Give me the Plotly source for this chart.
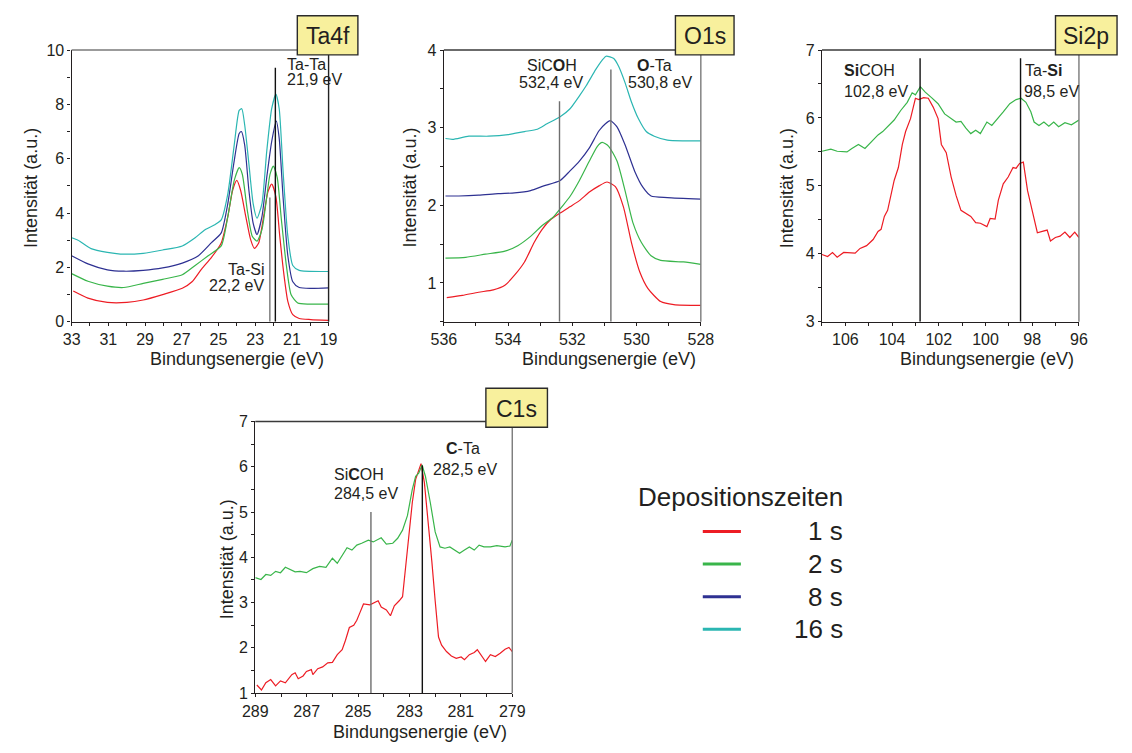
import plotly.graph_objects as go

W, H = 1132, 753
FONT = "Liberation Sans, Arial, sans-serif"
INK = "#231f20"

SERIES_NAMES = ["1 s", "2 s", "8 s", "16 s"]
SERIES_COLORS = ["#ed1c24", "#39b54a", "#2e3192", "#2bb6b2"]

# ---------------- Ta4f ----------------
TA4F_E_1S = [32.91, 32.11, 31.05, 29.99, 29.10, 28.04, 26.97, 26.44, 25.91, 25.38, 24.85, 24.49, 24.23, 24.00,
             23.79, 23.51, 23.25, 23.04, 22.81, 22.54, 22.31, 22.10, 21.87, 21.66, 21.45, 21.22, 20.95, 20.60,
             19.97, 19.00]
TA4F_I_1S = [1.13, 0.87, 0.71, 0.71, 0.80, 1.00, 1.23, 1.47, 1.95, 2.37, 2.90, 3.87, 4.83, 5.20,
             4.83, 3.87, 3.03, 2.70, 2.90, 3.87, 4.77, 5.07, 4.60, 3.15, 1.83, 0.75, 0.26, 0.12,
             0.08, 0.05]
TA4F_E_2S = [33.0, 32.11, 31.05, 30.16, 29.10, 28.04, 26.97, 26.27, 25.56, 24.85, 24.49, 24.14, 23.87, 23.70,
             23.43, 23.16, 22.90, 22.63, 22.37, 22.19, 22.01, 21.80, 21.57, 21.30, 21.04, 20.68, 20.06, 19.0]
TA4F_I_2S = [1.77, 1.49, 1.31, 1.26, 1.41, 1.56, 1.73, 2.07, 2.43, 2.79, 3.87, 5.20, 5.67, 5.43,
             4.11, 3.15, 2.97, 3.39, 4.59, 5.43, 5.73, 5.31, 3.75, 2.07, 0.99, 0.69, 0.65, 0.65]
TA4F_E_8S = [33.0, 32.11, 31.05, 30.16, 29.10, 28.04, 26.97, 26.09, 25.38, 24.85, 24.49, 24.17, 23.87, 23.75,
             23.57, 23.34, 23.11, 22.90, 22.63, 22.37, 22.10, 21.85, 21.69, 21.48, 21.22, 20.95, 20.60, 19.0]
TA4F_I_8S = [2.43, 2.13, 1.91, 1.86, 1.89, 1.98, 2.16, 2.43, 2.91, 3.27, 4.35, 5.80, 6.93, 7.00,
             6.50, 4.83, 3.63, 3.21, 3.87, 5.31, 6.63, 7.38, 6.75, 4.59, 2.43, 1.47, 1.26, 1.25]
TA4F_E_16S = [33.0, 32.65, 31.94, 31.05, 30.34, 29.10, 28.04, 26.97, 26.27, 25.73, 25.20, 24.85, 24.49, 24.14,
              23.87, 23.73, 23.57, 23.34, 23.11, 22.90, 22.63, 22.37, 22.10, 21.87, 21.69, 21.48, 21.22, 20.95,
              20.60, 19.0]
TA4F_I_16S = [3.09, 3.00, 2.69, 2.55, 2.49, 2.52, 2.64, 2.79, 3.09, 3.39, 3.57, 3.75, 4.71, 6.51,
              7.78, 7.84, 7.24, 5.80, 4.35, 3.81, 4.35, 6.27, 7.84, 8.38, 7.84, 5.55, 3.15, 2.07,
              1.89, 1.85]

# ---------------- O1s ----------------
O1S_E_1S = [535.91, 535.42, 534.92, 534.46, 534.10, 533.80, 533.49, 533.19, 532.94, 532.69, 532.38, 532.08,
            531.78, 531.47, 531.17, 530.92, 530.66, 530.41, 530.16, 529.90, 529.65, 529.25, 528.84, 528.0]
O1S_I_1S = [0.81, 0.84, 0.88, 0.91, 0.97, 1.10, 1.27, 1.52, 1.69, 1.81, 1.90, 1.98,
            2.06, 2.17, 2.25, 2.30, 2.24, 1.98, 1.52, 1.14, 0.93, 0.76, 0.72, 0.71]
O1S_E_2S = [535.95, 535.32, 534.71, 534.10, 533.70, 533.30, 532.94, 532.59, 532.33, 532.08, 531.78, 531.47,
            531.22, 531.07, 530.87, 530.61, 530.36, 530.11, 529.85, 529.55, 529.25, 528.54, 528.0]
O1S_I_2S = [1.32, 1.33, 1.37, 1.41, 1.48, 1.60, 1.74, 1.85, 1.98, 2.11, 2.32, 2.57,
            2.76, 2.81, 2.76, 2.57, 2.19, 1.77, 1.52, 1.35, 1.29, 1.27, 1.24]
O1S_E_8S = [535.95, 535.53, 534.92, 534.31, 533.80, 533.30, 532.89, 532.38, 532.08, 531.78, 531.47, 531.17,
            530.97, 530.82, 530.61, 530.36, 530.06, 529.80, 529.55, 529.04, 528.0]
O1S_I_8S = [2.12, 2.12, 2.13, 2.15, 2.16, 2.19, 2.25, 2.32, 2.44, 2.57, 2.74, 2.96,
            3.05, 3.09, 3.01, 2.78, 2.44, 2.23, 2.12, 2.10, 2.08]
O1S_E_16S = [535.95, 535.73, 535.22, 534.61, 534.0, 533.49, 533.09, 532.79, 532.38, 532.08, 531.78, 531.57,
             531.27, 531.07, 530.95, 530.71, 530.56, 530.36, 530.16, 529.95, 529.70, 529.45, 529.04, 528.54,
             528.0]
O1S_I_16S = [2.86, 2.85, 2.89, 2.89, 2.91, 2.95, 2.98, 3.05, 3.14, 3.24, 3.41, 3.54,
             3.75, 3.87, 3.92, 3.89, 3.79, 3.58, 3.33, 3.12, 2.95, 2.89, 2.84, 2.83,
             2.83]

# ---------------- Si2p ----------------
SI2P_E_1S = [107.0, 106.76, 106.55, 106.35, 106.07, 105.79, 105.58, 105.37, 105.09, 104.81, 104.60, 104.47,
             104.33, 104.19, 104.05, 103.91, 103.73, 103.56, 103.42, 103.21, 103.0, 102.86, 102.65, 102.45,
             102.24, 102.03, 101.89, 101.68, 101.47, 101.26, 101.05, 100.84, 100.63, 100.42, 100.22, 99.94,
             99.80, 99.59, 99.45, 99.24, 99.03, 98.82, 98.69, 98.54, 98.38, 98.20, 97.99, 97.78, 97.57, 97.36,
             97.22, 97.01, 96.81, 96.60, 96.39, 96.18, 96.0]
SI2P_I_1S = [3.99, 3.96, 4.02, 3.95, 4.02, 4.02, 4.01, 4.08, 4.12, 4.21, 4.33, 4.36,
             4.55, 4.64, 4.86, 5.08, 5.27, 5.61, 5.80, 5.99, 6.29, 6.27, 6.30, 6.29,
             6.16, 5.99, 5.61, 5.49, 5.13, 4.86, 4.64, 4.60, 4.55, 4.46, 4.45, 4.40,
             4.52, 4.51, 4.79, 5.03, 5.13, 5.27, 5.26, 5.33, 5.35, 4.93, 4.60, 4.31, 4.33, 4.35,
             4.19, 4.24, 4.26, 4.32, 4.24, 4.32, 4.24]
SI2P_E_2S = [107.0, 106.62, 106.35, 105.93, 105.72, 105.44, 105.16, 104.88, 104.60, 104.40, 104.19, 103.91,
             103.63, 103.35, 103.14, 103.0, 102.79, 102.58, 102.31, 102.03, 101.75, 101.47, 101.26, 101.05,
             100.84, 100.63, 100.42, 100.22, 99.94, 99.73, 99.52, 99.24, 98.96, 98.69, 98.48, 98.27, 98.06,
             97.92, 97.71, 97.50, 97.29, 97.08, 96.87, 96.60, 96.32, 96.0]
SI2P_I_2S = [5.51, 5.54, 5.51, 5.50, 5.55, 5.61, 5.55, 5.65, 5.75, 5.80, 5.87, 5.97,
             6.11, 6.23, 6.37, 6.34, 6.46, 6.38, 6.30, 6.21, 6.06, 5.99, 5.94, 5.95,
             5.85, 5.77, 5.82, 5.77, 5.94, 5.89, 5.97, 6.09, 6.21, 6.27, 6.29, 6.23, 6.09,
             5.94, 5.89, 5.94, 5.88, 5.94, 5.87, 5.93, 5.90, 5.97]

# ---------------- C1s ----------------
C1S_E_1S = [288.94, 288.76, 288.59, 288.40, 288.21, 288.02, 287.83, 287.58, 287.45, 287.33, 287.14, 287.01,
            286.82, 286.76, 286.57, 286.38, 286.18, 286.0, 285.81, 285.62, 285.49, 285.34, 285.17, 285.05,
            284.92, 284.79, 284.54, 284.35, 284.22, 284.10, 283.90, 283.74, 283.59, 283.40, 283.27, 283.14,
            283.02, 282.89, 282.76, 282.64, 282.55, 282.42, 282.29, 282.13, 282.0, 281.87, 281.75, 281.56,
            281.37, 281.18, 280.99, 280.86, 280.67, 280.48, 280.36, 280.17, 280.04, 279.85, 279.66, 279.47,
            279.28, 279.13, 279.0]
C1S_I_1S = [1.18, 1.07, 1.23, 1.30, 1.16, 1.27, 1.23, 1.41, 1.45, 1.32, 1.38, 1.48,
            1.52, 1.41, 1.54, 1.58, 1.67, 1.68, 1.85, 1.96, 2.17, 2.45, 2.50, 2.61,
            2.79, 2.97, 2.95, 3.00, 3.04, 2.90, 2.84, 2.71, 2.93, 3.04, 3.13, 3.84,
            4.56, 5.21, 5.72, 5.93, 6.07, 5.65, 4.92, 3.91, 3.04, 2.24, 2.06, 1.92,
            1.82, 1.77, 1.80, 1.74, 1.85, 1.90, 1.96, 1.82, 1.70, 1.85, 1.81, 1.88,
            1.97, 2.01, 1.92]
C1S_E_2S = [289.0, 288.78, 288.59, 288.40, 288.21, 288.02, 287.83, 287.64, 287.45, 287.26, 287.01, 286.76,
            286.50, 286.25, 286.0, 285.81, 285.62, 285.43, 285.24, 285.05, 284.86, 284.60, 284.41, 284.29,
            284.10, 283.90, 283.65, 283.46, 283.27, 283.08, 282.89, 282.76, 282.64, 282.51, 282.38, 282.19,
            282.0, 281.81, 281.62, 281.43, 281.24, 281.05, 280.86, 280.67, 280.48, 280.29, 280.10, 279.85,
            279.60, 279.28, 279.09, 279.0]
C1S_I_2S = [3.55, 3.51, 3.62, 3.60, 3.69, 3.66, 3.78, 3.73, 3.68, 3.69, 3.66, 3.75,
            3.80, 3.78, 3.98, 3.87, 4.05, 4.21, 4.16, 4.27, 4.31, 4.38, 4.34, 4.38,
            4.43, 4.29, 4.31, 4.42, 4.60, 4.92, 5.50, 5.79, 5.86, 6.04, 5.79, 5.21,
            4.56, 4.23, 4.20, 4.23, 4.16, 4.09, 4.16, 4.23, 4.16, 4.27, 4.23, 4.23,
            4.26, 4.23, 4.25, 4.38]

# Reference binding energies marked by vertical lines
TA4F_REF_E = [21.9, 22.2]
O1S_REF_E = [532.4, 530.8]
SI2P_REF_E = [102.8, 98.5]
C1S_REF_E = [284.5, 282.5]

# Panel layout in page pixels
PANELS = [
    dict(label="Ta4f", box=(60, 323, 43, 321), xr=[33, 19], x0=33, xd=2, xm=1, yr=[0, 10], yd=2, ym=1,
         tag=(291, 353, 8, 48), top_col="#7a7a7a", right_col="#222222", ytitle_x=18.5, xtitle_y=359,
         smooth=True,
         series=[(TA4F_E_1S, TA4F_I_1S, 0), (TA4F_E_2S, TA4F_I_2S, 1),
                 (TA4F_E_8S, TA4F_I_8S, 2), (TA4F_E_16S, TA4F_I_16S, 3)],
         refs=[(TA4F_REF_E[0], 9.35, "#111111"), (TA4F_REF_E[1], 4.57, "#777777")]),
    dict(label="O1s", box=(441, 704, 43, 321), xr=[536, 528], x0=536, xd=2, xm=1, yr=[0.5, 4], yd=1, ym=0.5,
         tag=(678, 738, 8, 48), top_col="#3a3a3a", right_col="#7a7a7a", ytitle_x=406, xtitle_y=359,
         smooth=True,
         series=[(O1S_E_1S, O1S_I_1S, 0), (O1S_E_2S, O1S_I_2S, 1),
                 (O1S_E_8S, O1S_I_8S, 2), (O1S_E_16S, O1S_I_16S, 3)],
         refs=[(O1S_REF_E[0], 3.34, "#6e6e6e"), (O1S_REF_E[1], 3.75, "#6e6e6e")]),
    dict(label="Si2p", box=(828, 1091, 43, 321), xr=[107, 96], x0=96, xd=2, xm=1, yr=[3, 7], yd=1, ym=0.5,
         tag=(1067, 1130, 8, 48), top_col="#3a3a3a", right_col="#7a7a7a", ytitle_x=792.5, xtitle_y=359,
         smooth=False,
         series=[(SI2P_E_1S, SI2P_I_1S, 0), (SI2P_E_2S, SI2P_I_2S, 1)],
         refs=[(SI2P_REF_E[0], 6.88, "#111111"), (SI2P_REF_E[1], 6.88, "#111111")]),
    dict(label="C1s", box=(248, 511, 423, 701), xr=[289, 279], x0=289, xd=2, xm=1, yr=[1, 7], yd=1, ym=0.5,
         tag=(484, 547, 389, 429), top_col="#3a3a3a", right_col="#7a7a7a", ytitle_x=219, xtitle_y=741,
         smooth=False,
         series=[(C1S_E_1S, C1S_I_1S, 0), (C1S_E_2S, C1S_I_2S, 1)],
         refs=[(C1S_REF_E[0], 5.0, "#6e6e6e"), (C1S_REF_E[1], 6.03, "#111111")]),
]

# Peak labels: (panel index, text, x px, y px, alignment)
PEAK_LABELS = [
    (0, "Ta-Ta", 278, 58, "left"), (0, "21,9 eV", 278, 73.5, "left"),
    (0, "Ta-Si", 259, 268, "right"), (0, "22,2 eV", 259, 284, "right"),
    (1, "SiC<b>O</b>H", 552, 59, "center"), (1, "532,4 eV", 551, 76, "center"),
    (1, "<b>O</b>-Ta", 657, 59, "center"), (1, "530,8 eV", 662, 76, "center"),
    (2, "<b>Si</b>COH", 848, 64, "left"), (2, "102,8 eV", 848, 85, "left"),
    (2, "Ta-<b>Si</b>", 1034, 64, "left"), (2, "98,5 eV", 1033, 85, "left"),
    (3, "Si<b>C</b>OH", 327, 477, "left"), (3, "284,5 eV", 327, 497, "left"),
    (3, "<b>C</b>-Ta", 461, 451, "center"), (3, "282,5 eV", 463, 472, "center"),
]

LEGEND_TITLE = "Depositionszeiten"


def fx(p):
    return p / W


def fy(p):
    return 1 - p / H


fig = go.Figure()
shapes = []
annotations = []
layout_axes = {}

for k, p in enumerate(PANELS, start=1):
    sx = "" if k == 1 else str(k)
    x0p, x1p, y0p, y1p = p["box"]
    tickfont = dict(family=FONT, size=16, color=INK)

    common = dict(showgrid=False, zeroline=False, tickmode="linear", ticklen=3, tickwidth=1, tickcolor=INK)
    layout_axes["xaxis" + sx] = dict(
        domain=[fx(x0p), fx(x1p)], range=p["xr"], anchor="y" + sx, tick0=p["x0"], dtick=p["xd"],
        ticks="outside", showline=True, linecolor=INK, linewidth=1.3, tickfont=tickfont,
        minor=dict(dtick=p["xm"], ticks="outside", ticklen=3, tickwidth=1, tickcolor=INK), **common)
    layout_axes["yaxis" + sx] = dict(
        domain=[fy(y1p), fy(y0p)], range=p["yr"], anchor="x" + sx, tick0=0, dtick=p["yd"],
        ticks="outside", showline=True, linecolor=INK, linewidth=1.3, tickfont=tickfont,
        minor=dict(dtick=p["ym"], ticks="outside", ticklen=3, tickwidth=1, tickcolor=INK), **common)
    # companion axes give the ticks their inward half, so they cross the axis line
    ko = str(k + 4)
    layout_axes["xaxis" + ko] = dict(
        overlaying="x" + sx, anchor="y" + sx, side="bottom", range=p["xr"], tick0=p["x0"], dtick=p["xd"],
        ticks="inside", showline=False, showticklabels=False,
        minor=dict(dtick=p["xm"], ticks="inside", ticklen=3, tickwidth=1, tickcolor=INK), **common)
    layout_axes["yaxis" + ko] = dict(
        overlaying="y" + sx, anchor="x" + sx, side="left", range=p["yr"], tick0=0, dtick=p["yd"],
        ticks="inside", showline=False, showticklabels=False,
        minor=dict(dtick=p["ym"], ticks="inside", ticklen=3, tickwidth=1, tickcolor=INK), **common)

    for e_vals, i_vals, si in p["series"]:
        fig.add_trace(go.Scatter(
            x=e_vals, y=i_vals, xaxis="x" + sx, yaxis="y" + sx, mode="lines", name=SERIES_NAMES[si],
            line=dict(color=SERIES_COLORS[si], width=1.2,
                      shape="spline" if p["smooth"] else "linear", smoothing=0.6),
            showlegend=False, hoverinfo="x+y+name"))

    # reference energy markers
    for e_ref, top, col in p["refs"]:
        shapes.append(dict(type="line", xref="x" + sx, yref="y" + sx, x0=e_ref, x1=e_ref,
                           y0=p["yr"][0], y1=top, line=dict(color=col, width=1.4), layer="above"))

    tx0, tx1, ty0, ty1 = p["tag"]
    # frame: top edge up to the tag, right edge down from it
    shapes.append(dict(type="line", xref="paper", yref="paper", x0=fx(x0p), x1=fx(tx0), y0=fy(y0p), y1=fy(y0p),
                       line=dict(color=p["top_col"], width=1.4)))
    shapes.append(dict(type="line", xref="paper", yref="paper", x0=fx(x1p), x1=fx(x1p), y0=fy(ty1), y1=fy(y1p),
                       line=dict(color=p["right_col"], width=1.4)))
    shapes.append(dict(type="rect", xref="paper", yref="paper", x0=fx(tx0), x1=fx(tx1), y0=fy(ty1), y1=fy(ty0),
                       fillcolor="#f8f09d", line=dict(color="#2b2b2b", width=1.4), layer="above"))
    annotations.append(dict(text=p["label"], xref="paper", yref="paper", x=fx((tx0 + tx1) / 2),
                            y=fy((ty0 + ty1) / 2 + 1), xanchor="center", yanchor="middle", showarrow=False,
                            font=dict(family=FONT, size=23, color=INK)))

    # axis titles
    annotations.append(dict(text="Bindungsenergie (eV)", xref="paper", yref="paper", x=fx(x1p - 3),
                            y=fy(p["xtitle_y"]), xanchor="right", yanchor="middle", showarrow=False,
                            font=dict(family=FONT, size=18, color=INK)))
    annotations.append(dict(text="Intensität (a.u.)", xref="paper", yref="paper", x=fx(p["ytitle_x"]),
                            y=fy((y0p + y1p) / 2 + 2), xanchor="center", yanchor="middle", textangle=-90,
                            showarrow=False, font=dict(family=FONT, size=18, color=INK)))

for pi, text, xp, yp, al in PEAK_LABELS:
    annotations.append(dict(text=text, xref="paper", yref="paper", x=fx(xp), y=fy(yp), xanchor=al,
                            yanchor="middle", showarrow=False, font=dict(family=FONT, size=16, color=INK)))

# legend block
annotations.append(dict(text=LEGEND_TITLE, xref="paper", yref="paper", x=fx(852), y=fy(500),
                        xanchor="right", yanchor="middle", showarrow=False,
                        font=dict(family=FONT, size=26, color=INK)))
for j, (name, col) in enumerate(zip(SERIES_NAMES, SERIES_COLORS)):
    yc = 535.5 + j * 33.4
    shapes.append(dict(type="line", xref="paper", yref="paper", x0=fx(706), x1=fx(745), y0=fy(yc), y1=fy(yc),
                       line=dict(color=col, width=3)))
    annotations.append(dict(text=name, xref="paper", yref="paper", x=fx(852), y=fy(yc), xanchor="right",
                            yanchor="middle", showarrow=False, font=dict(family=FONT, size=26, color=INK)))

fig.update_layout(
    width=W, height=H, margin=dict(l=0, r=0, t=0, b=0), showlegend=False,
    paper_bgcolor="white", plot_bgcolor="white", font=dict(family=FONT, color=INK),
    shapes=shapes, annotations=annotations, **layout_axes)

fig.write_html("out.html")
